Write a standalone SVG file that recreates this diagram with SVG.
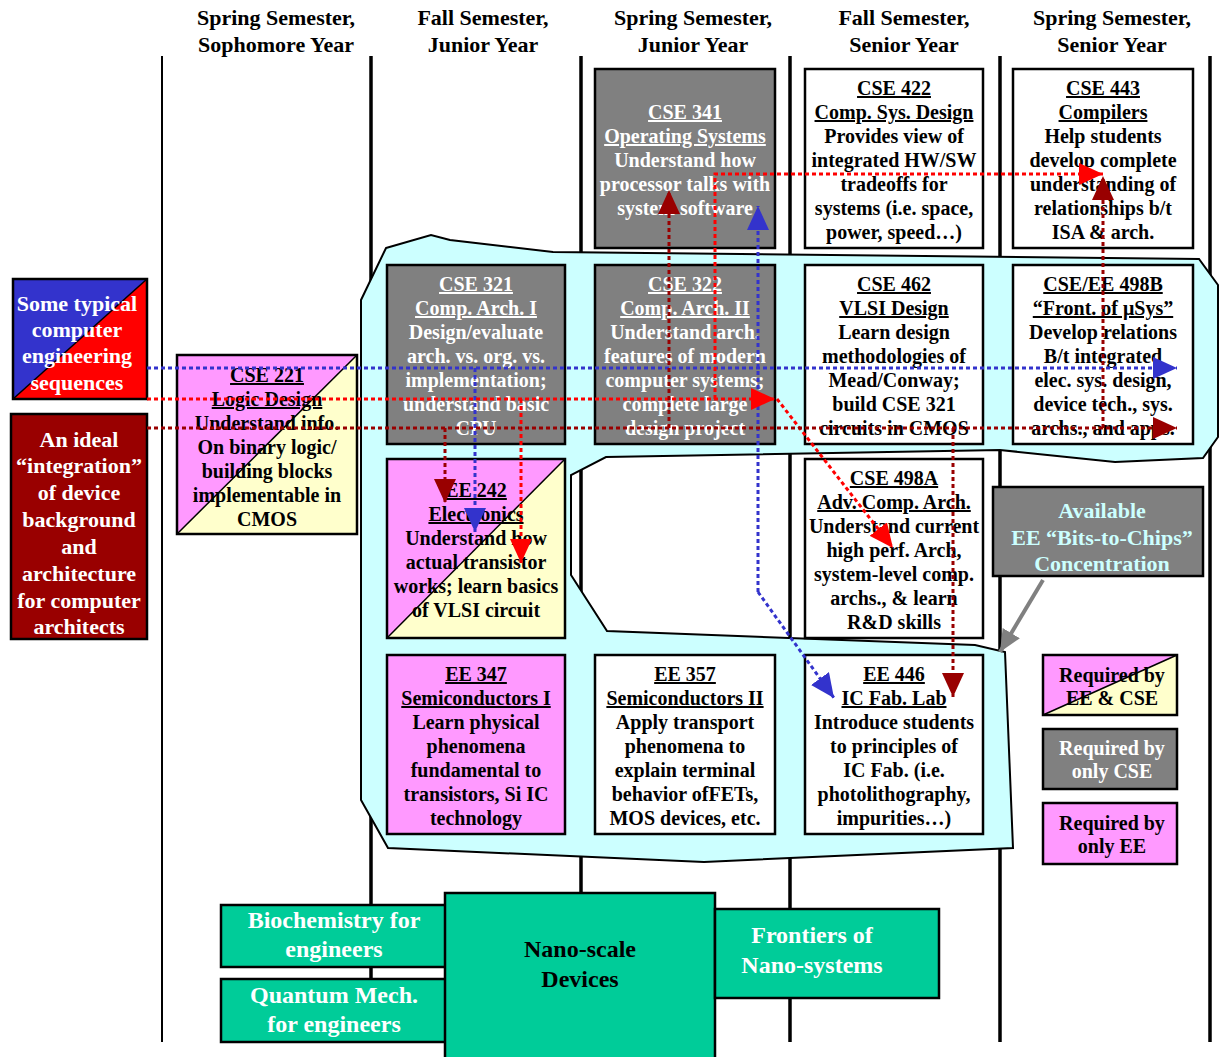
<svg xmlns="http://www.w3.org/2000/svg" width="1220" height="1057" viewBox="0 0 1220 1057">
<defs>
<style>
text{font-family:"Liberation Serif","Times New Roman",serif;font-weight:bold;text-anchor:middle}
.h{font-size:22px;fill:#000}
.c{font-size:20px}
.wt{fill:#fff}
.bk{fill:#000}
.cy{fill:#CCFFFF}
.u{text-decoration:underline}
.big{font-size:22px}
.grn{font-size:24px}
.bx{stroke:#000;stroke-width:2.5}
.gray{fill:#808080}
.white{fill:#fff}
.pink{fill:#FF99FF}
.yel{fill:#FFFFCC}
.green{fill:#00CC99}
.diag{stroke:#000;stroke-width:1.5;fill:none}
.col{stroke:#000;stroke-width:3.5}
.conn{fill:none;stroke-width:3;stroke-dasharray:4 3}
</style>
<marker id="mB" viewBox="0 0 24 22" markerUnits="userSpaceOnUse" markerWidth="24" markerHeight="22" refX="24" refY="11" orient="auto"><path d="M0,0L24,11L0,22z" fill="#3333CC"/></marker>
<marker id="mR" viewBox="0 0 24 22" markerUnits="userSpaceOnUse" markerWidth="24" markerHeight="22" refX="24" refY="11" orient="auto"><path d="M0,0L24,11L0,22z" fill="#FF0000"/></marker>
<marker id="mD" viewBox="0 0 24 22" markerUnits="userSpaceOnUse" markerWidth="24" markerHeight="22" refX="24" refY="11" orient="auto"><path d="M0,0L24,11L0,22z" fill="#990000"/></marker>
<marker id="mG" viewBox="0 0 22 20" markerUnits="userSpaceOnUse" markerWidth="22" markerHeight="20" refX="22" refY="10" orient="auto"><path d="M0,0L22,10L0,20z" fill="#808080"/></marker>
</defs>
<rect width="1220" height="1057" fill="#fff"/>
<g id="headers">
<text class="h" x="276" y="25">Spring Semester,</text><text class="h" x="276" y="52">Sophomore Year</text>
<text class="h" x="483" y="25">Fall Semester,</text><text class="h" x="483" y="52">Junior Year</text>
<text class="h" x="693" y="25">Spring Semester,</text><text class="h" x="693" y="52">Junior Year</text>
<text class="h" x="904" y="25">Fall Semester,</text><text class="h" x="904" y="52">Senior Year</text>
<text class="h" x="1112" y="25">Spring Semester,</text><text class="h" x="1112" y="52">Senior Year</text>
</g>
<g id="columns">
<line x1="162" y1="56" x2="162" y2="1042" stroke="#000" stroke-width="2"/>
<line class="col" x1="371" y1="56" x2="371" y2="1042"/>
<line class="col" x1="581" y1="56" x2="581" y2="1042"/>
<line class="col" x1="790" y1="56" x2="790" y2="1042"/>
<line class="col" x1="1000" y1="56" x2="1000" y2="1042"/>
<line class="col" x1="1210" y1="56" x2="1210" y2="1042"/>
</g>
<g id="integration-region">
<polygon points="386,248 431,235 450,240 553,252 1199,259 1218,285 1218,437 1203,458 1115,462 1000,450 606,457 571,475 571,575 607,631 975,645 1005,652 1013,848 704,862 388,848 361,800 361,300" fill="#CCFFFF" stroke="#000" stroke-width="2"/>
</g>
<g id="cse341">
<rect class="bx gray" x="595" y="69" width="180" height="179"/>
<text class="c wt u" x="685" y="119">CSE 341</text>
<text class="c wt u" x="685" y="143">Operating Systems</text>
<text class="c wt" x="685" y="167">Understand how</text>
<text class="c wt" x="685" y="191">processor talks with</text>
<text class="c wt" x="685" y="215">system software</text>
</g>
<g id="cse422">
<rect class="bx white" x="805" y="69" width="178" height="179"/>
<text class="c bk u" x="894" y="95">CSE 422</text>
<text class="c bk u" x="894" y="119">Comp. Sys. Design</text>
<text class="c bk" x="894" y="143">Provides view of</text>
<text class="c bk" x="894" y="167">integrated HW/SW</text>
<text class="c bk" x="894" y="191">tradeoffs for</text>
<text class="c bk" x="894" y="215">systems (i.e. space,</text>
<text class="c bk" x="894" y="239">power, speed…)</text>
</g>
<g id="cse443">
<rect class="bx white" x="1013" y="69" width="180" height="179"/>
<text class="c bk u" x="1103" y="95">CSE 443</text>
<text class="c bk u" x="1103" y="119">Compilers</text>
<text class="c bk" x="1103" y="143">Help students</text>
<text class="c bk" x="1103" y="167">develop complete</text>
<text class="c bk" x="1103" y="191">understanding of</text>
<text class="c bk" x="1103" y="215">relationships b/t</text>
<text class="c bk" x="1103" y="239">ISA &amp; arch.</text>
</g>
<g id="cse321">
<rect class="bx gray" x="387" y="265" width="178" height="179"/>
<text class="c wt u" x="476" y="291">CSE 321</text>
<text class="c wt u" x="476" y="315">Comp. Arch. I</text>
<text class="c wt" x="476" y="339">Design/evaluate</text>
<text class="c wt" x="476" y="363">arch. vs. org. vs.</text>
<text class="c wt" x="476" y="387">implementation;</text>
<text class="c wt" x="476" y="411">understand basic</text>
<text class="c wt" x="476" y="435">CPU</text>
</g>
<g id="cse322">
<rect class="bx gray" x="595" y="265" width="180" height="179"/>
<text class="c wt u" x="685" y="291">CSE 322</text>
<text class="c wt u" x="685" y="315">Comp. Arch. II</text>
<text class="c wt" x="685" y="339">Understand arch.</text>
<text class="c wt" x="685" y="363">features of modern</text>
<text class="c wt" x="685" y="387">computer systems;</text>
<text class="c wt" x="685" y="411">complete large</text>
<text class="c wt" x="685" y="435">design project</text>
</g>
<g id="cse462">
<rect class="bx white" x="805" y="265" width="178" height="179"/>
<text class="c bk u" x="894" y="291">CSE 462</text>
<text class="c bk u" x="894" y="315">VLSI Design</text>
<text class="c bk" x="894" y="339">Learn design</text>
<text class="c bk" x="894" y="363">methodologies of</text>
<text class="c bk" x="894" y="387">Mead/Conway;</text>
<text class="c bk" x="894" y="411">build CSE 321</text>
<text class="c bk" x="894" y="435">circuits in CMOS</text>
</g>
<g id="cse498b">
<rect class="bx white" x="1013" y="265" width="180" height="179"/>
<text class="c bk u" x="1103" y="291">CSE/EE 498B</text>
<text class="c bk u" x="1103" y="315">“Front. of  μSys”</text>
<text class="c bk" x="1103" y="339">Develop relations</text>
<text class="c bk" x="1103" y="363">B/t integrated</text>
<text class="c bk" x="1103" y="387">elec. sys. design,</text>
<text class="c bk" x="1103" y="411">device tech., sys.</text>
<text class="c bk" x="1103" y="435">archs., and apps.</text>
</g>
<g id="cse221">
<rect class="yel" x="177" y="355" width="180" height="179"/>
<polygon class="pink" points="177,355 357,355 177,534"/>
<line class="diag" x1="177" y1="534" x2="357" y2="355"/>
<rect class="bx" fill="none" x="177" y="355" width="180" height="179"/>
<text class="c bk u" x="267" y="382">CSE 221</text>
<text class="c bk u" x="267" y="406">Logic Design</text>
<text class="c bk" x="267" y="430">Understand info.</text>
<text class="c bk" x="267" y="454">On binary logic/</text>
<text class="c bk" x="267" y="478">building blocks</text>
<text class="c bk" x="267" y="502">implementable in</text>
<text class="c bk" x="267" y="526">CMOS</text>
</g>
<g id="ee242">
<rect class="yel" x="387" y="459" width="178" height="179"/>
<polygon class="pink" points="387,459 565,459 387,638"/>
<line class="diag" x1="387" y1="638" x2="565" y2="459"/>
<rect class="bx" fill="none" x="387" y="459" width="178" height="179"/>
<text class="c bk u" x="476" y="497">EE 242</text>
<text class="c bk u" x="476" y="521">Electronics</text>
<text class="c bk" x="476" y="545">Understand how</text>
<text class="c bk" x="476" y="569">actual transistor</text>
<text class="c bk" x="476" y="593">works; learn basics</text>
<text class="c bk" x="476" y="617">of VLSI circuit</text>
</g>
<g id="cse498a">
<rect class="bx white" x="805" y="459" width="178" height="179"/>
<text class="c bk u" x="894" y="485">CSE 498A</text>
<text class="c bk u" x="894" y="509">Adv. Comp. Arch.</text>
<text class="c bk" x="894" y="533">Understand current</text>
<text class="c bk" x="894" y="557">high perf. Arch,</text>
<text class="c bk" x="894" y="581">system-level comp.</text>
<text class="c bk" x="894" y="605">archs., &amp; learn</text>
<text class="c bk" x="894" y="629">R&amp;D skills</text>
</g>
<g id="ee347">
<rect class="bx pink" x="387" y="655" width="178" height="179"/>
<text class="c bk u" x="476" y="681">EE 347</text>
<text class="c bk u" x="476" y="705">Semiconductors I</text>
<text class="c bk" x="476" y="729">Learn physical</text>
<text class="c bk" x="476" y="753">phenomena</text>
<text class="c bk" x="476" y="777">fundamental to</text>
<text class="c bk" x="476" y="801">transistors, Si IC</text>
<text class="c bk" x="476" y="825">technology</text>
</g>
<g id="ee357">
<rect class="bx white" x="595" y="655" width="180" height="179"/>
<text class="c bk u" x="685" y="681">EE 357</text>
<text class="c bk u" x="685" y="705">Semiconductors II</text>
<text class="c bk" x="685" y="729">Apply transport</text>
<text class="c bk" x="685" y="753">phenomena to</text>
<text class="c bk" x="685" y="777">explain terminal</text>
<text class="c bk" x="685" y="801">behavior ofFETs,</text>
<text class="c bk" x="685" y="825">MOS devices, etc.</text>
</g>
<g id="ee446">
<rect class="bx white" x="805" y="655" width="178" height="179"/>
<text class="c bk u" x="894" y="681">EE 446</text>
<text class="c bk u" x="894" y="705">IC Fab. Lab</text>
<text class="c bk" x="894" y="729">Introduce students</text>
<text class="c bk" x="894" y="753">to principles of</text>
<text class="c bk" x="894" y="777">IC Fab. (i.e.</text>
<text class="c bk" x="894" y="801">photolithography,</text>
<text class="c bk" x="894" y="825">impurities…)</text>
</g>
<g id="typical-sequences">
<rect x="13" y="279" width="134" height="120" fill="#FF0000"/>
<polygon points="13,279 147,279 13,399" fill="#3333CC"/>
<line class="diag" x1="13" y1="399" x2="147" y2="279"/>
<rect class="bx" fill="none" x="13" y="279" width="134" height="120"/>
<text class="big wt" x="77" y="311">Some typical</text>
<text class="big wt" x="77" y="337">computer</text>
<text class="big wt" x="77" y="363">engineering</text>
<text class="big wt" x="77" y="390">sequences</text>
</g>
<g id="ideal-integration">
<rect class="bx" fill="#990000" x="11" y="414" width="136" height="225"/>
<text class="big wt" x="79" y="447">An ideal</text>
<text class="big wt" x="79" y="473">“integration”</text>
<text class="big wt" x="79" y="500">of device</text>
<text class="big wt" x="79" y="527">background</text>
<text class="big wt" x="79" y="554">and</text>
<text class="big wt" x="79" y="581">architecture</text>
<text class="big wt" x="79" y="608">for computer</text>
<text class="big wt" x="79" y="634">architects</text>
</g>
<g id="bits-to-chips">
<rect class="bx gray" x="993" y="487" width="210" height="89"/>
<text class="big cy" x="1102" y="518">Available</text>
<text class="big cy" x="1102" y="545">EE “Bits-to-Chips”</text>
<text class="big cy" x="1102" y="571">Concentration</text>
</g>
<g id="legend-ee-cse">
<rect class="yel" x="1043" y="655" width="134" height="60"/>
<polygon class="pink" points="1043,655 1177,655 1043,715"/>
<line class="diag" x1="1043" y1="715" x2="1177" y2="655"/>
<rect class="bx" fill="none" x="1043" y="655" width="134" height="60"/>
<text class="c bk" x="1112" y="682">Required by</text>
<text class="c bk" x="1112" y="705">EE &amp; CSE</text>
</g>
<g id="legend-cse">
<rect class="bx gray" x="1043" y="729" width="134" height="60"/>
<text class="c wt" x="1112" y="755">Required by</text>
<text class="c wt" x="1112" y="778">only CSE</text>
</g>
<g id="legend-ee">
<rect class="bx pink" x="1043" y="803" width="134" height="61"/>
<text class="c bk" x="1112" y="830">Required by</text>
<text class="c bk" x="1112" y="853">only EE</text>
</g>
<g id="biochemistry">
<rect class="bx green" x="221" y="905" width="225" height="62"/>
<text class="grn wt" x="334" y="928">Biochemistry for</text>
<text class="grn wt" x="334" y="957">engineers</text>
</g>
<g id="quantum">
<rect class="bx green" x="221" y="979" width="225" height="63"/>
<text class="grn wt" x="334" y="1003">Quantum Mech.</text>
<text class="grn wt" x="334" y="1032">for engineers</text>
</g>
<g id="nanoscale">
<rect class="bx green" x="445" y="893" width="270" height="170"/>
<text class="grn bk" x="580" y="957">Nano-scale</text>
<text class="grn bk" x="580" y="987">Devices</text>
</g>
<g id="frontiers">
<rect class="bx green" x="715" y="909" width="224" height="89"/>
<text class="grn wt" x="812" y="943">Frontiers of</text>
<text class="grn wt" x="812" y="973">Nano-systems</text>
</g>
<g id="connectors">
<path class="conn" stroke="#3333CC" d="M147,368H1177" marker-end="url(#mB)"/>
<path class="conn" stroke="#3333CC" d="M475,368V532" marker-end="url(#mB)"/>
<path class="conn" stroke="#3333CC" d="M758,592V206" marker-end="url(#mB)"/>
<path class="conn" stroke="#3333CC" d="M758,592L834,698" marker-end="url(#mB)"/>
<path class="conn" stroke="#FF0000" d="M147,399H775" marker-end="url(#mR)"/>
<path class="conn" stroke="#FF0000" d="M777,399L893,548" marker-end="url(#mR)"/>
<path class="conn" stroke="#FF0000" d="M521,399V563" marker-end="url(#mR)"/>
<path class="conn" stroke="#FF0000" d="M715,399V174H1103" marker-end="url(#mR)"/>
<path class="conn" stroke="#990000" d="M147,428H1177" marker-end="url(#mD)"/>
<path class="conn" stroke="#990000" d="M445,428V503" marker-end="url(#mD)"/>
<path class="conn" stroke="#990000" d="M669,428V190" marker-end="url(#mD)"/>
<path class="conn" stroke="#990000" d="M953,428V697" marker-end="url(#mD)"/>
<path class="conn" stroke="#990000" d="M1103,428V176" marker-end="url(#mD)"/>
<path fill="none" stroke="#808080" stroke-width="4" d="M1043,580L1000,652" marker-end="url(#mG)"/>
</g>
</svg>
